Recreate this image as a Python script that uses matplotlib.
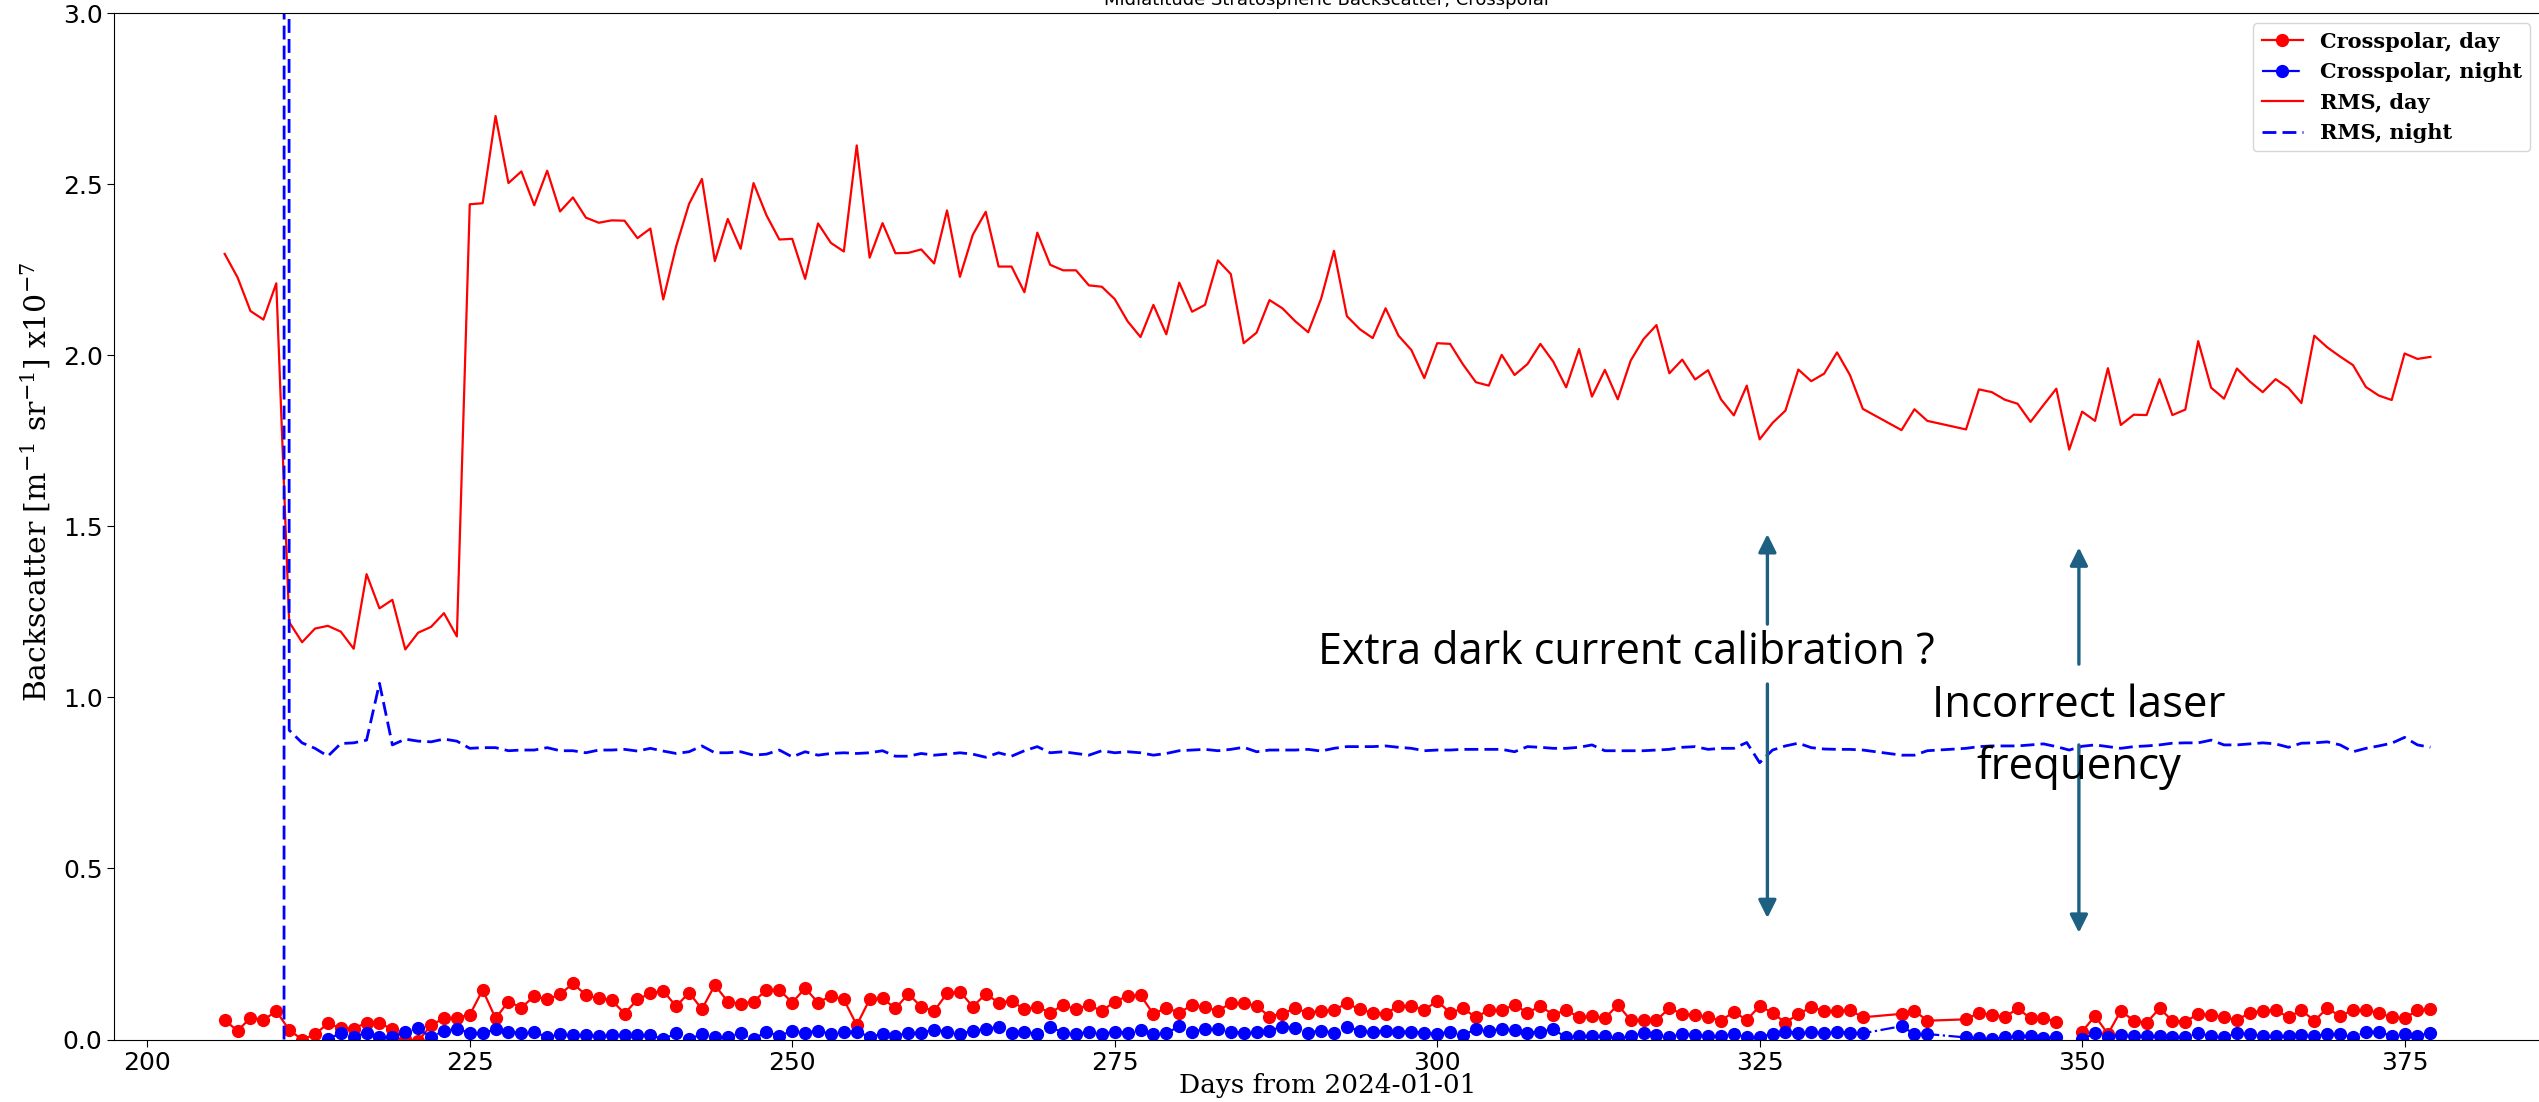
import matplotlib
matplotlib.use("Agg")
import matplotlib.pyplot as plt
import numpy as np

nan = np.nan
missing = (334, 335, 339, 340)

# ---------------- data ----------------
days_day = [d for d in range(206, 378) if d not in missing]
days_night = [d for d in range(214, 378) if d not in missing]
days_rms_night = [210.6, 210.75] + [d for d in range(211, 378) if d not in missing]

crosspolar_day = [
    0.057, 0.025, 0.064, 0.057, 0.083, 0.028, 0.000, 0.015, 0.047, 0.033,   # 206-215
    0.032, 0.049, 0.047, 0.031, 0.002, -0.005, 0.042, 0.062, 0.064, 0.072,  # 216-225
    0.145, 0.062, 0.111, 0.093, 0.127, 0.117, 0.132, 0.164, 0.130, 0.120,   # 226-235
    0.115, 0.076, 0.117, 0.135, 0.142, 0.097, 0.137, 0.089, 0.159, 0.111,   # 236-245
    0.104, 0.111, 0.145, 0.145, 0.108, 0.150, 0.108, 0.127, 0.117, 0.042,   # 246-255
    0.117, 0.120, 0.091, 0.133, 0.096, 0.083, 0.135, 0.140, 0.096, 0.133,   # 256-265
    0.108, 0.113, 0.088, 0.096, 0.078, 0.101, 0.088, 0.101, 0.083, 0.111,   # 266-275
    0.127, 0.130, 0.074, 0.093, 0.078, 0.101, 0.094, 0.084, 0.106, 0.106,   # 276-285
    0.098, 0.067, 0.076, 0.091, 0.078, 0.084, 0.086, 0.106, 0.088, 0.078,   # 286-295
    0.076, 0.098, 0.098, 0.086, 0.113, 0.078, 0.091, 0.065, 0.086, 0.086,   # 296-305
    0.101, 0.078, 0.098, 0.072, 0.086, 0.065, 0.069, 0.062, 0.101, 0.057,   # 306-315
    0.057, 0.057, 0.091, 0.075, 0.072, 0.065, 0.055, 0.081, 0.057, 0.098,   # 316-325
    0.078, 0.049, 0.075, 0.094, 0.084, 0.084, 0.086, 0.065,                 # 326-333
    0.075, 0.084, 0.055,                                                    # 336-338
    0.059, 0.078, 0.072, 0.065, 0.091, 0.062, 0.062, 0.052, nan, 0.023,     # 341-350
    0.069, 0.016, 0.084, 0.055, 0.049, 0.091, 0.055, 0.052, 0.075, 0.072,   # 351-360
    0.065, 0.057, 0.078, 0.084, 0.086, 0.065, 0.086, 0.055, 0.091, 0.069,   # 361-370
    0.086, 0.086, 0.078, 0.065, 0.062, 0.086, 0.088,                        # 371-377
]

crosspolar_night = [
    0.002, 0.018, 0.008, 0.020, 0.008, 0.006, 0.023, 0.033, 0.006, 0.026,   # 214-223
    0.030, 0.020, 0.018, 0.030, 0.023, 0.018, 0.023, 0.006, 0.016, 0.013,   # 224-233
    0.013, 0.010, 0.013, 0.013, 0.013, 0.013, 0.001, 0.018, 0.001, 0.016,   # 234-243
    0.006, 0.008, 0.018, 0.001, 0.023, 0.010, 0.026, 0.020, 0.026, 0.016,   # 244-253
    0.023, 0.023, 0.008, 0.016, 0.010, 0.020, 0.020, 0.028, 0.023, 0.016,   # 254-263
    0.026, 0.030, 0.037, 0.020, 0.023, 0.016, 0.037, 0.020, 0.016, 0.023,   # 264-273
    0.016, 0.023, 0.020, 0.029, 0.017, 0.018, 0.039, 0.023, 0.030, 0.030,   # 274-283
    0.023, 0.020, 0.023, 0.026, 0.037, 0.035, 0.020, 0.026, 0.020, 0.037,   # 284-293
    0.026, 0.023, 0.026, 0.023, 0.023, 0.020, 0.016, 0.023, 0.013, 0.030,   # 294-303
    0.026, 0.030, 0.028, 0.020, 0.023, 0.030, 0.006, 0.010, 0.010, 0.010,   # 304-313
    0.003, 0.010, 0.018, 0.013, 0.008, 0.016, 0.013, 0.010, 0.010, 0.016,   # 314-323
    0.006, 0.008, 0.016, 0.023, 0.020, 0.023, 0.018, 0.023, 0.020, 0.018,   # 324-333
    0.039, 0.016, 0.016,                                                    # 336-338
    0.006, 0.003, 0.001, 0.006, 0.010, 0.010, 0.003, 0.008, nan, 0.001,     # 341-350
    0.018, 0.006, 0.013, 0.010, 0.010, 0.010, 0.008, 0.008, 0.018, 0.010,   # 351-360
    0.006, 0.018, 0.016, 0.010, 0.010, 0.010, 0.013, 0.010, 0.016, 0.016,   # 361-370
    0.006, 0.023, 0.023, 0.010, 0.016, 0.010, 0.020,                        # 371-377
]

rms_day = [
    2.296, 2.227, 2.129, 2.104, 2.210, 1.220, 1.161, 1.201, 1.209, 1.192,   # 206-215
    1.142, 1.360, 1.260, 1.285, 1.140, 1.189, 1.206, 1.246, 1.178, 2.441,   # 216-225
    2.444, 2.699, 2.503, 2.537, 2.438, 2.539, 2.420, 2.461, 2.402, 2.387,   # 226-235
    2.394, 2.393, 2.342, 2.370, 2.163, 2.318, 2.442, 2.515, 2.275, 2.398,   # 236-245
    2.311, 2.503, 2.409, 2.338, 2.340, 2.223, 2.385, 2.328, 2.303, 2.613,   # 246-255
    2.285, 2.386, 2.298, 2.299, 2.309, 2.268, 2.423, 2.229, 2.352, 2.419,   # 256-265
    2.259, 2.259, 2.184, 2.358, 2.264, 2.248, 2.248, 2.204, 2.200, 2.164,   # 266-275
    2.099, 2.053, 2.147, 2.061, 2.212, 2.127, 2.147, 2.277, 2.237, 2.035,   # 276-285
    2.066, 2.161, 2.137, 2.099, 2.067, 2.165, 2.305, 2.114, 2.076, 2.050,   # 286-295
    2.137, 2.057, 2.015, 1.933, 2.035, 2.033, 1.973, 1.921, 1.911, 2.001,   # 296-305
    1.942, 1.974, 2.033, 1.981, 1.906, 2.018, 1.879, 1.957, 1.871, 1.984,   # 306-315
    2.047, 2.088, 1.947, 1.987, 1.929, 1.956, 1.871, 1.824, 1.911, 1.754,   # 316-325
    1.802, 1.838, 1.958, 1.924, 1.946, 2.008, 1.942, 1.843,                 # 326-333
    1.781, 1.842, 1.808,                                                    # 336-338
    1.783, 1.900, 1.892, 1.870, 1.858, 1.805, 1.854, 1.902, 1.724, 1.835,   # 341-350
    1.808, 1.962, 1.796, 1.826, 1.825, 1.930, 1.825, 1.841, 2.041, 1.905,   # 351-360
    1.873, 1.961, 1.923, 1.892, 1.930, 1.904, 1.860, 2.057, 2.023, 1.996,   # 361-370
    1.971, 1.907, 1.882, 1.869, 2.005, 1.989, 1.995,                        # 371-377
]

rms_night = [
    0.0, 60.0, 0.904,                                                       # spike, 211
    0.867, 0.851, 0.828, 0.865, 0.867, 0.875, 1.041, 0.861, 0.878, 0.872,   # 212-221
    0.870, 0.878, 0.872, 0.851, 0.853, 0.853, 0.844, 0.846, 0.846, 0.853,   # 222-231
    0.844, 0.844, 0.838, 0.846, 0.846, 0.848, 0.843, 0.851, 0.843, 0.836,   # 232-241
    0.841, 0.858, 0.838, 0.838, 0.841, 0.831, 0.834, 0.846, 0.826, 0.841,   # 242-251
    0.831, 0.836, 0.838, 0.836, 0.838, 0.844, 0.828, 0.828, 0.836, 0.831,   # 252-261
    0.834, 0.838, 0.834, 0.825, 0.838, 0.828, 0.844, 0.856, 0.838, 0.841,   # 262-271
    0.836, 0.831, 0.844, 0.838, 0.841, 0.838, 0.831, 0.836, 0.844, 0.846,   # 272-281
    0.848, 0.844, 0.848, 0.854, 0.841, 0.846, 0.846, 0.846, 0.848, 0.843,   # 282-291
    0.851, 0.856, 0.856, 0.856, 0.858, 0.854, 0.851, 0.844, 0.846, 0.846,   # 292-301
    0.848, 0.848, 0.848, 0.848, 0.841, 0.856, 0.854, 0.851, 0.851, 0.854,   # 302-311
    0.861, 0.844, 0.844, 0.844, 0.844, 0.846, 0.848, 0.854, 0.856, 0.848,   # 312-321
    0.851, 0.851, 0.868, 0.809, 0.846, 0.858, 0.866, 0.853, 0.849, 0.848,   # 322-331
    0.848, 0.846,                                                           # 332-333
    0.831, 0.831, 0.844,                                                    # 336-338
    0.851, 0.856, 0.858, 0.858, 0.858, 0.861, 0.864, 0.856, 0.846, 0.857,   # 341-350
    0.861, 0.856, 0.851, 0.856, 0.858, 0.861, 0.866, 0.867, 0.867, 0.875,   # 351-360
    0.861, 0.861, 0.864, 0.867, 0.864, 0.854, 0.866, 0.867, 0.870, 0.861,   # 361-370
    0.841, 0.851, 0.858, 0.866, 0.883, 0.861, 0.854,                        # 371-377
]

x_ticks = [200, 225, 250, 275, 300, 325, 350, 375]
y_ticks = [0.0, 0.5, 1.0, 1.5, 2.0, 2.5, 3.0]

series_labels = ["Crosspolar, day", "Crosspolar, night", "RMS, day", "RMS, night"]

# annotation arrows: (x, tail, tip)
arrow_x = [325.6, 349.75]
arrow_up = [(1.214, 1.477), (1.097, 1.438)]
arrow_down = [(1.039, 0.355), (0.861, 0.312)]

# ---------------- figure ----------------
plt.rcParams["mathtext.fontset"] = "dejavuserif"

fig = plt.figure(figsize=(25.39, 11.02), dpi=100)
ax = fig.add_axes([0.04506, 0.0567, 0.9556, 0.9315])

ax.plot(days_day, crosspolar_day, "o-", color="red", lw=1.6, ms=8.5,
        label=series_labels[0])
ax.plot(days_night, crosspolar_night, "o-.", color="blue", lw=1.6, ms=8.5,
        label=series_labels[1])
ax.plot(days_day, rms_day, "-", color="red", lw=1.6, label=series_labels[2])
ax.plot(days_rms_night, rms_night, color="blue", lw=2.0,
        linestyle=(0, (5, 2.2)), label=series_labels[3])

ax.set_xlim(197.45, 385.55)
ax.set_ylim(0, 3)
ax.set_xticks(x_ticks)
ax.set_yticks(y_ticks)
ax.tick_params(labelsize=18, length=5)
for lab in ax.get_xticklabels() + ax.get_yticklabels():
    lab.set_family("DejaVu Sans")

ax.set_title("Midlatitude Stratospheric Backscatter, Crosspolar", fontsize=13)
ax.set_xlabel("Days from 2024-01-01", family="DejaVu Serif", fontsize=19)
ax.xaxis.set_label_coords(0.5, -0.033)
ax.set_ylabel(r"Backscatter [m$^{-1}$ sr$^{-1}$] x10$^{-7}$", family="DejaVu Serif",
              fontsize=21.5)
ax.yaxis.set_label_coords(-0.0255, 0.543)

ax.legend(loc="upper right", prop=dict(family="DejaVu Serif", weight="bold", size=15))

arrow_color = "#1d6082"
for xa, (t0, t1), (b0, b1) in zip(arrow_x, arrow_up, arrow_down):
    for tail, tip in ((t0, t1), (b0, b1)):
        ax.annotate("", xy=(xa, tip), xytext=(xa, tail),
                    arrowprops=dict(arrowstyle="-|>", color=arrow_color, lw=2.4,
                                    mutation_scale=27, shrinkA=0, shrinkB=0))

ax.text(314.7, 1.097, "Extra dark current calibration ?", family="Open Sans",
        fontsize=31, ha="center", va="baseline", color="black")
ax.text(349.75, 0.762, "Incorrect laser\nfrequency", family="Open Sans",
        fontsize=31.5, ha="center", va="baseline", multialignment="center",
        linespacing=1.5, color="black")

fig.savefig("out.png", dpi=100)
